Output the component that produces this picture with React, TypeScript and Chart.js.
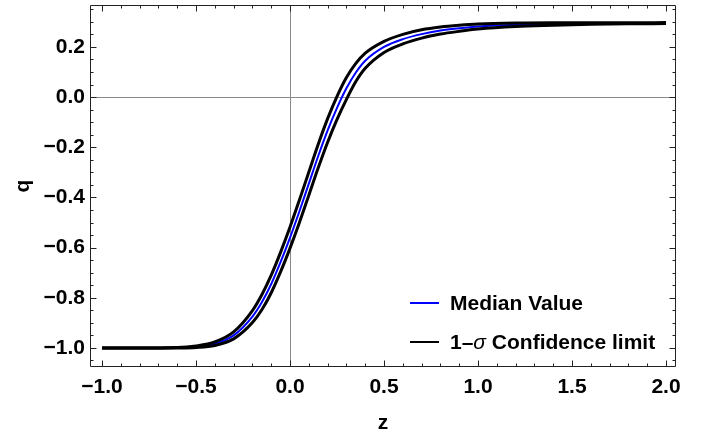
import { useEffect, useRef } from "react";
import { Chart, registerables } from "chart.js";

Chart.register(...registerables);

const zValues = [-1, -0.8, -0.6, -0.5, -0.4, -0.3, -0.2, -0.15, -0.1, -0.05, 0, 0.05, 0.1, 0.15, 0.2, 0.25, 0.3, 0.35, 0.4, 0.5, 0.6, 0.7, 0.8, 0.9, 1.0, 1.2, 1.4, 1.6, 1.8, 2.0];
const medianQ = [-1.0, -1.0, -0.999, -0.995, -0.983, -0.95, -0.875, -0.818, -0.745, -0.657, -0.56, -0.455, -0.345, -0.235, -0.133, -0.043, 0.035, 0.098, 0.145, 0.2, 0.231, 0.251, 0.265, 0.274, 0.281, 0.288, 0.291, 0.293, 0.294, 0.295];
const upperQ = [-0.999, -0.999, -0.998, -0.992, -0.976, -0.936, -0.851, -0.788, -0.71, -0.618, -0.518, -0.41, -0.299, -0.188, -0.086, 0.003, 0.078, 0.134, 0.175, 0.222, 0.25, 0.268, 0.279, 0.286, 0.291, 0.295, 0.296, 0.296, 0.296, 0.297];
const lowerQ = [-1.001, -1.001, -1.0, -0.998, -0.99, -0.964, -0.899, -0.848, -0.78, -0.696, -0.602, -0.5, -0.391, -0.282, -0.18, -0.089, -0.009, 0.062, 0.115, 0.178, 0.212, 0.235, 0.251, 0.262, 0.271, 0.281, 0.286, 0.29, 0.292, 0.293];

const xTickValues = [-1, -0.5, 0, 0.5, 1, 1.5, 2];
const yTickValues = [-1, -0.8, -0.6, -0.4, -0.2, 0, 0.2];
const xMinorStep = 0.1;
const yMinorStep = 0.05;
const xAxisTitle = "z";
const yAxisTitle = "q";
const medianLabel = "Median Value";
const confidenceLabel = "1–σ Confidence limit";

const FONT = "'Liberation Sans', Arial, sans-serif";

function fmt(v: number) {
  const s = Math.abs(v).toFixed(1);
  return v < -1e-9 ? "−" + s : s;
}

const framePlugin = {
  id: "mmaFrame",
  beforeDatasetsDraw(chart: any) {
    const { ctx, chartArea: a, scales } = chart;
    const x0 = Math.round(scales.x.getPixelForValue(0)) + 0.5;
    const y0 = Math.round(scales.y.getPixelForValue(0)) + 0.5;
    ctx.save();
    ctx.strokeStyle = "#8a8a8a";
    ctx.lineWidth = 1;
    ctx.beginPath();
    ctx.moveTo(x0, a.top);
    ctx.lineTo(x0, a.bottom);
    ctx.moveTo(a.left, y0);
    ctx.lineTo(a.right, y0);
    ctx.stroke();
    ctx.restore();
  },
  afterDraw(chart: any) {
    const { ctx, chartArea: a, scales } = chart;
    const xs = scales.x;
    const ys = scales.y;
    ctx.save();
    ctx.strokeStyle = "#222";
    ctx.lineWidth = 1;
    const L = Math.round(a.left) + 0.5;
    const R = Math.round(a.right) - 0.5;
    const T = Math.round(a.top) + 0.5;
    const B = Math.round(a.bottom) - 0.5;
    ctx.beginPath();
    ctx.rect(L, T, R - L, B - T);
    ctx.stroke();
    ctx.beginPath();
    const xMin = Math.ceil((xs.min + 1e-9) / xMinorStep);
    const xMax = Math.floor((xs.max - 1e-9) / xMinorStep);
    for (let i = xMin; i <= xMax; i++) {
      const v = i * xMinorStep;
      const major = xTickValues.some((t) => Math.abs(t - v) < 1e-6);
      const len = major ? 6 : 3;
      const px = Math.round(xs.getPixelForValue(v)) + 0.5;
      ctx.moveTo(px, B);
      ctx.lineTo(px, B - len);
      ctx.moveTo(px, T);
      ctx.lineTo(px, T + len);
    }
    const yMin = Math.ceil((ys.min + 1e-9) / yMinorStep);
    const yMax = Math.floor((ys.max - 1e-9) / yMinorStep);
    for (let i = yMin; i <= yMax; i++) {
      const v = i * yMinorStep;
      const major = yTickValues.some((t) => Math.abs(t - v) < 1e-6);
      const len = major ? 6 : 3;
      const py = Math.round(ys.getPixelForValue(v)) + 0.5;
      ctx.moveTo(L, py);
      ctx.lineTo(L + len, py);
      ctx.moveTo(R, py);
      ctx.lineTo(R - len, py);
    }
    ctx.stroke();

    // legend
    const lx0 = 410;
    const lx1 = 439;
    const tx = 450;
    const rows = [
      { y: 303, color: "#0000ff" },
      { y: 342, color: "#000000" },
    ];
    ctx.lineWidth = 2;
    rows.forEach((r) => {
      ctx.strokeStyle = r.color;
      ctx.beginPath();
      ctx.moveTo(lx0, r.y);
      ctx.lineTo(lx1, r.y);
      ctx.stroke();
    });
    ctx.fillStyle = "#000";
    ctx.textBaseline = "alphabetic";
    ctx.textAlign = "left";
    ctx.font = `bold 21px ${FONT}`;
    ctx.fillText(medianLabel, tx, 310);
    const parts = confidenceLabel.split("σ");
    let cx = tx;
    ctx.fillText(parts[0], cx, 349);
    cx += ctx.measureText(parts[0]).width;
    ctx.font = `italic 21px ${FONT}`;
    ctx.fillText("σ", cx, 349);
    cx += ctx.measureText("σ").width;
    ctx.font = `bold 21px ${FONT}`;
    ctx.fillText(parts[1], cx, 349);
    ctx.restore();
  },
};

export default function App() {
  const ref = useRef<HTMLCanvasElement | null>(null);
  useEffect(() => {
    if (!ref.current) return;
    const chart = new Chart(ref.current, {
      type: "line",
      data: {
        datasets: [
          {
            label: confidenceLabel,
            data: zValues.map((z, i) => ({ x: z, y: upperQ[i] })),
            borderColor: "#000",
            borderWidth: 3,
            pointRadius: 0,
            cubicInterpolationMode: "monotone",
          },
          {
            label: confidenceLabel + " (lower)",
            data: zValues.map((z, i) => ({ x: z, y: lowerQ[i] })),
            borderColor: "#000",
            borderWidth: 3,
            pointRadius: 0,
            cubicInterpolationMode: "monotone",
          },
          {
            label: medianLabel,
            data: zValues.map((z, i) => ({ x: z, y: medianQ[i] })),
            borderColor: "#0000ff",
            borderWidth: 2,
            pointRadius: 0,
            cubicInterpolationMode: "monotone",
          },
        ],
      },
      options: {
        animation: false,
        responsive: false,
        maintainAspectRatio: false,
        layout: { padding: { top: 5, right: 28, left: 0, bottom: 0 } },
        plugins: { legend: { display: false }, tooltip: { enabled: false } },
        scales: {
          x: {
            type: "linear",
            min: -1.064,
            max: 2.053,
            afterBuildTicks: (s: any) => {
              s.ticks = xTickValues.map((v) => ({ value: v }));
            },
            afterFit: (s: any) => {
              s.height = 70;
              s.paddingLeft = 0;
              s.paddingRight = 0;
            },
            grid: { display: false, drawTicks: false },
            border: { display: false },
            ticks: {
              padding: 8,
              maxRotation: 0,
              autoSkip: false,
              color: "#000",
              font: { family: FONT, size: 21, weight: "bold" },
              callback: (v: any) => fmt(Number(v)),
            },
            title: {
              display: true,
              text: xAxisTitle,
              color: "#000",
              font: { family: FONT, size: 21, weight: "bold" },
              padding: { top: 0, bottom: 1 },
            },
          },
          y: {
            type: "linear",
            min: -1.076,
            max: 0.367,
            afterBuildTicks: (s: any) => {
              s.ticks = yTickValues.map((v) => ({ value: v }));
            },
            afterFit: (s: any) => {
              s.width = 90;
              s.paddingTop = 0;
              s.paddingBottom = 0;
            },
            grid: { display: false, drawTicks: false },
            border: { display: false },
            ticks: {
              padding: 5,
              autoSkip: false,
              color: "#000",
              font: { family: FONT, size: 21, weight: "bold" },
              callback: (v: any) => fmt(Number(v)),
            },
            title: {
              display: true,
              text: yAxisTitle,
              color: "#000",
              font: { family: FONT, size: 21, weight: "bold" },
              padding: { top: 11, bottom: 0 },
            },
          },
        },
      } as any,
      plugins: [framePlugin],
    });
    return () => chart.destroy();
  }, []);
  return (
    <div style={{ position: "fixed", left: 0, top: 0, width: 704, height: 437, background: "#fff" }}>
      <canvas ref={ref} width={704} height={437} style={{ width: 704, height: 437 }} />
    </div>
  );
}
